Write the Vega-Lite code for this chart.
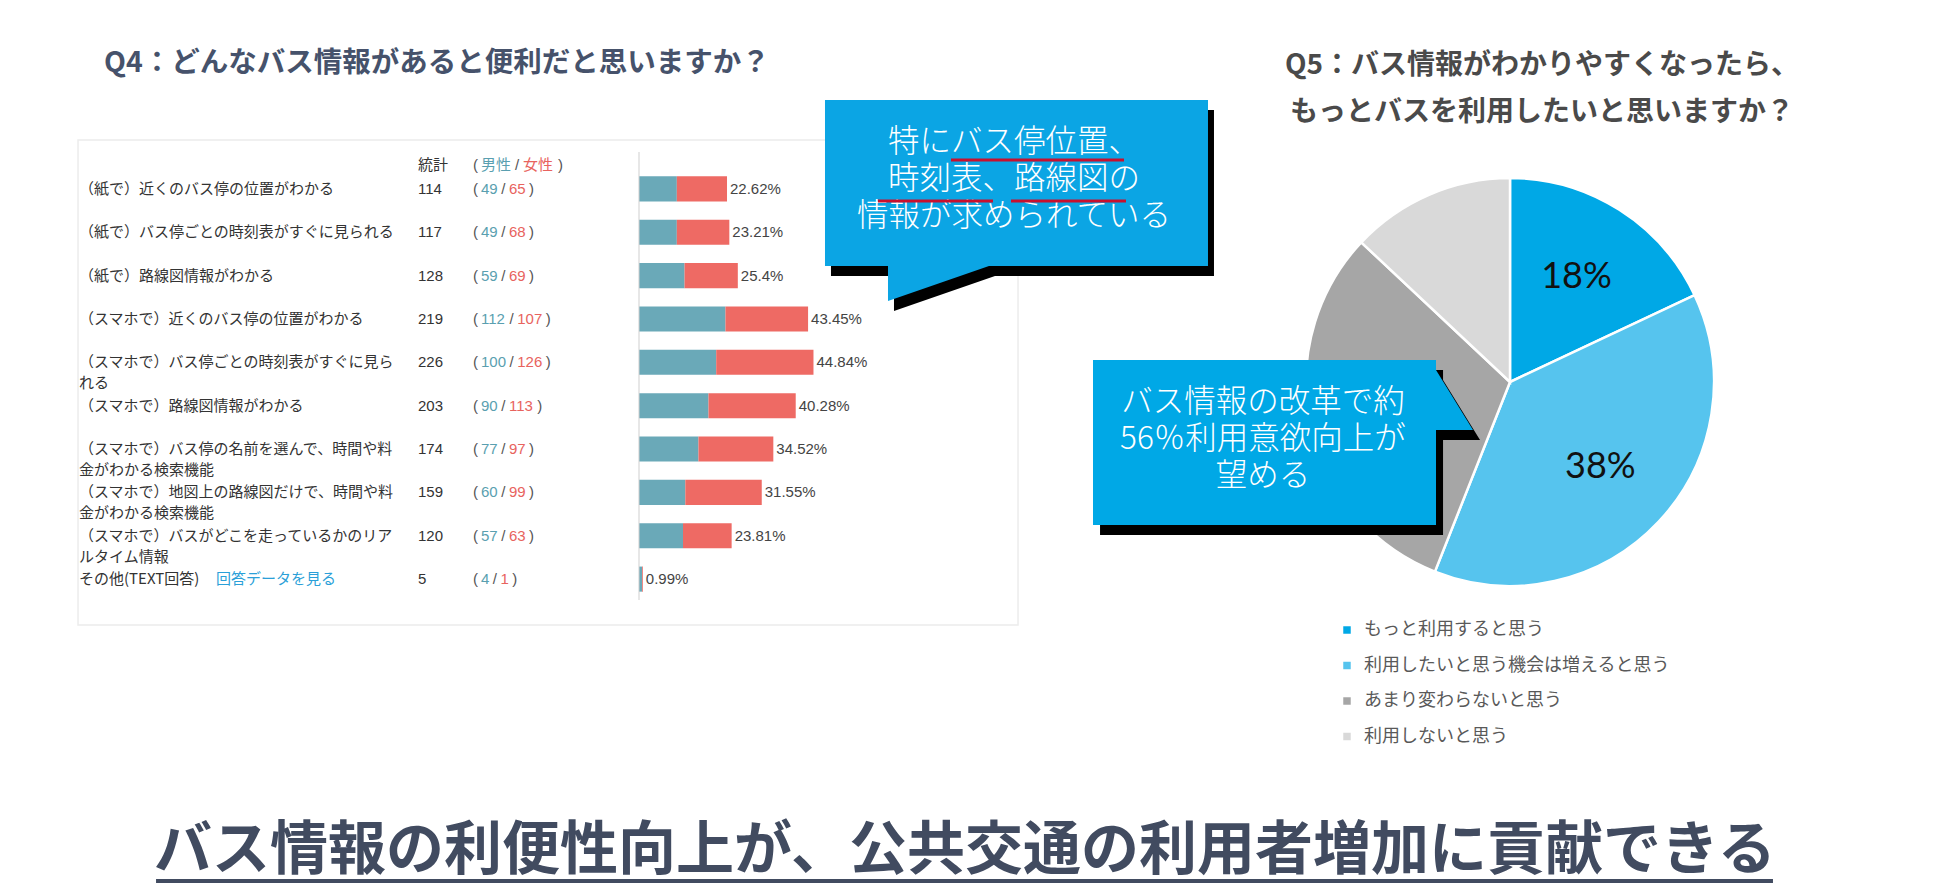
{
"$schema": "https://vega.github.io/schema/vega-lite/v6.json",
"background": "white",
"padding": {"left": 77, "top": 48, "right": 0, "bottom": 12},
"autosize": {"type": "pad"},
"config": {
  "view": {"stroke": null},
  "font": "Noto Sans CJK JP"
},
"datasets": {
  "q4": [
    {"item": "（紙で）近くのバス停の位置がわかる", "total": 114, "male": 49, "female": 65, "share": 0.2262},
    {"item": "（紙で）バス停ごとの時刻表がすぐに見られる", "total": 117, "male": 49, "female": 68, "share": 0.2321},
    {"item": "（紙で）路線図情報がわかる", "total": 128, "male": 59, "female": 69, "share": 0.254},
    {"item": "（スマホで）近くのバス停の位置がわかる", "total": 219, "male": 112, "female": 107, "share": 0.4345},
    {"item": "（スマホで）バス停ごとの時刻表がすぐに見ら\nれる", "total": 226, "male": 100, "female": 126, "share": 0.4484},
    {"item": "（スマホで）路線図情報がわかる", "total": 203, "male": 90, "female": 113, "share": 0.4028},
    {"item": "（スマホで）バス停の名前を選んで、時間や料\n金がわかる検索機能", "total": 174, "male": 77, "female": 97, "share": 0.3452},
    {"item": "（スマホで）地図上の路線図だけで、時間や料\n金がわかる検索機能", "total": 159, "male": 60, "female": 99, "share": 0.3155},
    {"item": "（スマホで）バスがどこを走っているかのリア\nルタイム情報", "total": 120, "male": 57, "female": 63, "share": 0.2381},
    {"item": "その他(TEXT回答)", "link": "回答データを見る", "total": 5, "male": 4, "female": 1, "share": 0.0099}
  ],
  "q5": [
    {"no": 1, "answer": "もっと利用すると思う", "pct": 0.18},
    {"no": 2, "answer": "利用したいと思う機会は増えると思う", "pct": 0.38},
    {"no": 3, "answer": "あまり変わらないと思う", "pct": 0.31},
    {"no": 4, "answer": "利用しないと思う", "pct": 0.13}
  ]
},
"bounds": "flush",
"spacing": 685,
"vconcat": [
  {
    "bounds": "flush",
    "spacing": 0,
    "hconcat": [
      {
        "width": 560,
        "height": 502,
        "title": {"text": "Q4：どんなバス情報があると便利だと思いますか？", "anchor": "start", "dx": 25, "fontSize": 28.5, "fontWeight": "bold", "color": "#46526b", "font": "Noto Sans CJK JP", "baseline": "bottom", "offset": 27},
        "data": {"name": "q4"},
        "encoding": {
          "y": {"field": "item", "type": "nominal", "axis": null,
            "scale": {"type": "band", "paddingInner": 0.4221, "paddingOuter": 1.0125,
              "domain": ["（紙で）近くのバス停の位置がわかる", "（紙で）バス停ごとの時刻表がすぐに見られる", "（紙で）路線図情報がわかる", "（スマホで）近くのバス停の位置がわかる", "（スマホで）バス停ごとの時刻表がすぐに見ら\nれる", "（スマホで）路線図情報がわかる", "（スマホで）バス停の名前を選んで、時間や料\n金がわかる検索機能", "（スマホで）地図上の路線図だけで、時間や料\n金がわかる検索機能", "（スマホで）バスがどこを走っているかのリア\nルタイム情報", "その他(TEXT回答)"]}}
        },
        "layer": [
          {"mark": {"type": "text", "align": "left", "baseline": "middle", "fontSize": 15, "color": "#333333", "lineBreak": "\n", "lineHeight": 21},
           "encoding": {"x": {"datum": 0, "type": "quantitative", "scale": {"domain": [0, 100], "nice": false, "zero": false}, "axis": null}, "text": {"field": "item"}}},
          {"transform": [{"filter": "isValid(datum.link)"}],
           "mark": {"type": "text", "align": "left", "baseline": "middle", "fontSize": 15, "color": "#2b9fd8"},
           "encoding": {"x": {"datum": 24.46, "type": "quantitative", "scale": {"domain": [0, 100], "nice": false, "zero": false}, "axis": null}, "text": {"field": "link"}}},
          {"mark": {"type": "text", "align": "left", "baseline": "middle", "fontSize": 15, "font": "Liberation Sans", "color": "#333333"},
           "encoding": {"x": {"datum": 60.54, "type": "quantitative", "scale": {"domain": [0, 100], "nice": false, "zero": false}, "axis": null}, "text": {"field": "total", "type": "quantitative", "format": "d"}}},
          {"mark": {"type": "text", "align": "left", "baseline": "middle", "fontSize": 15, "font": "Liberation Sans", "color": "#555555"},
           "encoding": {"x": {"datum": 70.36, "type": "quantitative", "scale": {"domain": [0, 100], "nice": false, "zero": false}, "axis": null}, "text": {"value": "("}}},
          {"mark": {"type": "text", "align": "left", "baseline": "middle", "fontSize": 15, "font": "Liberation Sans", "color": "#5a9fb0"},
           "encoding": {"x": {"datum": 71.79, "type": "quantitative", "scale": {"domain": [0, 100], "nice": false, "zero": false}, "axis": null}, "text": {"field": "male", "type": "quantitative", "format": "d"}}},
          {"transform": [{"filter": "datum.male < 10"}],
           "mark": {"type": "text", "align": "left", "baseline": "middle", "fontSize": 15, "font": "Liberation Sans", "color": "#555555"},
           "encoding": {"x": {"datum": 73.89, "type": "quantitative", "scale": {"domain": [0, 100], "nice": false, "zero": false}, "axis": null}, "text": {"value": "/"}}},
          {"transform": [{"filter": "datum.male >= 10 && datum.male < 100"}],
           "mark": {"type": "text", "align": "left", "baseline": "middle", "fontSize": 15, "font": "Liberation Sans", "color": "#555555"},
           "encoding": {"x": {"datum": 75.39, "type": "quantitative", "scale": {"domain": [0, 100], "nice": false, "zero": false}, "axis": null}, "text": {"value": "/"}}},
          {"transform": [{"filter": "datum.male >= 100"}],
           "mark": {"type": "text", "align": "left", "baseline": "middle", "fontSize": 15, "font": "Liberation Sans", "color": "#555555"},
           "encoding": {"x": {"datum": 76.88, "type": "quantitative", "scale": {"domain": [0, 100], "nice": false, "zero": false}, "axis": null}, "text": {"value": "/"}}},
          {"transform": [{"filter": "datum.male < 10"}],
           "mark": {"type": "text", "align": "left", "baseline": "middle", "fontSize": 15, "font": "Liberation Sans", "color": "#e8635e"},
           "encoding": {"x": {"datum": 75.27, "type": "quantitative", "scale": {"domain": [0, 100], "nice": false, "zero": false}, "axis": null}, "text": {"field": "female", "type": "quantitative", "format": "d"}}},
          {"transform": [{"filter": "datum.male >= 10 && datum.male < 100"}],
           "mark": {"type": "text", "align": "left", "baseline": "middle", "fontSize": 15, "font": "Liberation Sans", "color": "#e8635e"},
           "encoding": {"x": {"datum": 76.77, "type": "quantitative", "scale": {"domain": [0, 100], "nice": false, "zero": false}, "axis": null}, "text": {"field": "female", "type": "quantitative", "format": "d"}}},
          {"transform": [{"filter": "datum.male >= 100"}],
           "mark": {"type": "text", "align": "left", "baseline": "middle", "fontSize": 15, "font": "Liberation Sans", "color": "#e8635e"},
           "encoding": {"x": {"datum": 78.25, "type": "quantitative", "scale": {"domain": [0, 100], "nice": false, "zero": false}, "axis": null}, "text": {"field": "female", "type": "quantitative", "format": "d"}}},
          {"transform": [{"filter": "(datum.male >= 100 ? 3 : datum.male >= 10 ? 2 : 1) + (datum.female >= 100 ? 3 : datum.female >= 10 ? 2 : 1) == 2"}],
           "mark": {"type": "text", "align": "left", "baseline": "middle", "fontSize": 15, "font": "Liberation Sans", "color": "#555555"},
           "encoding": {"x": {"datum": 77.38, "type": "quantitative", "scale": {"domain": [0, 100], "nice": false, "zero": false}, "axis": null}, "text": {"value": ")"}}},
          {"transform": [{"filter": "(datum.male >= 100 ? 3 : datum.male >= 10 ? 2 : 1) + (datum.female >= 100 ? 3 : datum.female >= 10 ? 2 : 1) == 3"}],
           "mark": {"type": "text", "align": "left", "baseline": "middle", "fontSize": 15, "font": "Liberation Sans", "color": "#555555"},
           "encoding": {"x": {"datum": 78.87, "type": "quantitative", "scale": {"domain": [0, 100], "nice": false, "zero": false}, "axis": null}, "text": {"value": ")"}}},
          {"transform": [{"filter": "(datum.male >= 100 ? 3 : datum.male >= 10 ? 2 : 1) + (datum.female >= 100 ? 3 : datum.female >= 10 ? 2 : 1) == 4"}],
           "mark": {"type": "text", "align": "left", "baseline": "middle", "fontSize": 15, "font": "Liberation Sans", "color": "#555555"},
           "encoding": {"x": {"datum": 80.36, "type": "quantitative", "scale": {"domain": [0, 100], "nice": false, "zero": false}, "axis": null}, "text": {"value": ")"}}},
          {"transform": [{"filter": "(datum.male >= 100 ? 3 : datum.male >= 10 ? 2 : 1) + (datum.female >= 100 ? 3 : datum.female >= 10 ? 2 : 1) == 5"}],
           "mark": {"type": "text", "align": "left", "baseline": "middle", "fontSize": 15, "font": "Liberation Sans", "color": "#555555"},
           "encoding": {"x": {"datum": 81.85, "type": "quantitative", "scale": {"domain": [0, 100], "nice": false, "zero": false}, "axis": null}, "text": {"value": ")"}}},
          {"transform": [{"filter": "(datum.male >= 100 ? 3 : datum.male >= 10 ? 2 : 1) + (datum.female >= 100 ? 3 : datum.female >= 10 ? 2 : 1) == 6"}],
           "mark": {"type": "text", "align": "left", "baseline": "middle", "fontSize": 15, "font": "Liberation Sans", "color": "#555555"},
           "encoding": {"x": {"datum": 83.34, "type": "quantitative", "scale": {"domain": [0, 100], "nice": false, "zero": false}, "axis": null}, "text": {"value": ")"}}},
          {"data": {"values": [{"t": "統計"}]},
           "mark": {"type": "text", "align": "left", "baseline": "middle", "fontSize": 15, "color": "#333333", "dy": -24},
           "encoding": {"x": {"datum": 60.54, "type": "quantitative", "scale": {"domain": [0, 100], "nice": false, "zero": false}, "axis": null}, "y": {"datum": "（紙で）近くのバス停の位置がわかる", "type": "nominal"}, "text": {"field": "t"}}},
          {"data": {"values": [{"t": "("}]},
           "mark": {"type": "text", "align": "left", "baseline": "middle", "fontSize": 15, "font": "Liberation Sans", "color": "#555555", "dy": -24},
           "encoding": {"x": {"datum": 70.36, "type": "quantitative", "scale": {"domain": [0, 100], "nice": false, "zero": false}, "axis": null}, "y": {"datum": "（紙で）近くのバス停の位置がわかる", "type": "nominal"}, "text": {"field": "t"}}},
          {"data": {"values": [{"t": "男性"}]},
           "mark": {"type": "text", "align": "left", "baseline": "middle", "fontSize": 15, "color": "#5a9fb0", "dy": -24},
           "encoding": {"x": {"datum": 71.79, "type": "quantitative", "scale": {"domain": [0, 100], "nice": false, "zero": false}, "axis": null}, "y": {"datum": "（紙で）近くのバス停の位置がわかる", "type": "nominal"}, "text": {"field": "t"}}},
          {"data": {"values": [{"t": "/"}]},
           "mark": {"type": "text", "align": "left", "baseline": "middle", "fontSize": 15, "font": "Liberation Sans", "color": "#555555", "dy": -24},
           "encoding": {"x": {"datum": 77.86, "type": "quantitative", "scale": {"domain": [0, 100], "nice": false, "zero": false}, "axis": null}, "y": {"datum": "（紙で）近くのバス停の位置がわかる", "type": "nominal"}, "text": {"field": "t"}}},
          {"data": {"values": [{"t": "女性"}]},
           "mark": {"type": "text", "align": "left", "baseline": "middle", "fontSize": 15, "color": "#e8635e", "dy": -24},
           "encoding": {"x": {"datum": 79.29, "type": "quantitative", "scale": {"domain": [0, 100], "nice": false, "zero": false}, "axis": null}, "y": {"datum": "（紙で）近くのバス停の位置がわかる", "type": "nominal"}, "text": {"field": "t"}}},
          {"data": {"values": [{"t": ")"}]},
           "mark": {"type": "text", "align": "left", "baseline": "middle", "fontSize": 15, "font": "Liberation Sans", "color": "#555555", "dy": -24},
           "encoding": {"x": {"datum": 85.54, "type": "quantitative", "scale": {"domain": [0, 100], "nice": false, "zero": false}, "axis": null}, "y": {"datum": "（紙で）近くのバス停の位置がわかる", "type": "nominal"}, "text": {"field": "t"}}}
        ]
      },
      {
        "width": 447,
        "height": 502,
        "resolve": {"scale": {"x": "independent", "y": "independent"}},
        "layer": [
          {
            "data": {"name": "q4"},
            "encoding": {
              "y": {"field": "item", "type": "nominal", "axis": null,
                "scale": {"type": "band", "paddingInner": 0.4221, "paddingOuter": 1.0125,
                  "domain": ["（紙で）近くのバス停の位置がわかる", "（紙で）バス停ごとの時刻表がすぐに見られる", "（紙で）路線図情報がわかる", "（スマホで）近くのバス停の位置がわかる", "（スマホで）バス停ごとの時刻表がすぐに見ら\nれる", "（スマホで）路線図情報がわかる", "（スマホで）バス停の名前を選んで、時間や料\n金がわかる検索機能", "（スマホで）地図上の路線図だけで、時間や料\n金がわかる検索機能", "（スマホで）バスがどこを走っているかのリア\nルタイム情報", "その他(TEXT回答)"]}}
            },
            "layer": [
              {"mark": {"type": "bar", "color": "#6aa9b8"},
               "encoding": {"x": {"field": "male", "type": "quantitative", "scale": {"domain": [0, 579], "nice": false}, "axis": null}}},
              {"mark": {"type": "bar", "color": "#ee6a64"},
               "encoding": {"x": {"field": "male", "type": "quantitative", "scale": {"domain": [0, 579], "nice": false}, "axis": null}, "x2": {"field": "total"}}},
              {"mark": {"type": "text", "align": "left", "baseline": "middle", "dx": 3, "fontSize": 15, "font": "Liberation Sans", "color": "#444444"},
               "encoding": {"x": {"field": "total", "type": "quantitative", "scale": {"domain": [0, 579], "nice": false}, "axis": null}, "text": {"field": "share", "type": "quantitative", "format": ".2~%"}}}
            ]
          },
          {
            "layer": [
              {"data": {"values": [{}]},
               "mark": {"type": "rect", "fillOpacity": 0, "stroke": "#ececec", "strokeWidth": 1.5},
               "encoding": {"x": {"datum": -125.5, "type": "quantitative", "scale": {"domain": [0, 100], "nice": false, "zero": false}, "axis": null}, "x2": {"datum": 84.79},
                            "y": {"datum": 1.39, "type": "quantitative", "scale": {"domain": [0, 100], "nice": false, "zero": false, "reverse": true}, "axis": null}, "y2": {"datum": 98.0}}},
              {"data": {"values": [{}]},
               "mark": {"type": "rule", "color": "#cfcfcf", "strokeWidth": 1},
               "encoding": {"x": {"datum": 0, "type": "quantitative", "scale": {"domain": [0, 100], "nice": false, "zero": false}, "axis": null},
                            "y": {"datum": 3.78, "type": "quantitative", "scale": {"domain": [0, 100], "nice": false, "zero": false, "reverse": true}, "axis": null}, "y2": {"datum": 93.03}}},
              {"data": {"values": [{}]},
               "mark": {"type": "point", "shape": "M-1,-0.4334 L1,-0.4334 L1,0.4334 L-0.1436,0.4334 L-0.671,0.6162 L-0.671,0.4334 L-1,0.4334 Z", "size": 146689, "filled": true, "color": "#000000", "opacity": 1, "strokeWidth": 0},
               "encoding": {"x": {"datum": 85.79, "type": "quantitative", "scale": {"domain": [0, 100], "nice": false, "zero": false}, "axis": null},
                            "y": {"datum": 11.95, "type": "quantitative", "scale": {"domain": [0, 100], "nice": false, "zero": false, "reverse": true}, "axis": null}}},
              {"data": {"values": [{}]},
               "mark": {"type": "point", "shape": "M-1,-0.4334 L1,-0.4334 L1,0.4334 L-0.1436,0.4334 L-0.671,0.6162 L-0.671,0.4334 L-1,0.4334 Z", "size": 146689, "filled": true, "color": "#0ba5e4", "opacity": 1, "strokeWidth": 0},
               "encoding": {"x": {"datum": 84.45, "type": "quantitative", "scale": {"domain": [0, 100], "nice": false, "zero": false}, "axis": null},
                            "y": {"datum": 9.96, "type": "quantitative", "scale": {"domain": [0, 100], "nice": false, "zero": false, "reverse": true}, "axis": null}}},
              {"data": {"values": [{"t": "特にバス停位置、\n時刻表、路線図の\n情報が求められている"}]},
               "mark": {"type": "text", "align": "center", "baseline": "middle", "fontSize": 31.5, "fontWeight": 300, "color": "#ffffff", "lineBreak": "\n", "lineHeight": 37},
               "encoding": {"x": {"datum": 83.89, "type": "quantitative", "scale": {"domain": [0, 100], "nice": false, "zero": false}, "axis": null},
                            "y": {"datum": 2.0, "type": "quantitative", "scale": {"domain": [0, 100], "nice": false, "zero": false, "reverse": true}, "axis": null},
                            "text": {"field": "t"}}},
              {"data": {"values": [{}]},
               "mark": {"type": "rule", "color": "#c8102e", "strokeWidth": 3},
               "encoding": {"x": {"datum": 69.80, "type": "quantitative", "scale": {"domain": [0, 100], "nice": false, "zero": false}, "axis": null}, "x2": {"datum": 108.50},
                            "y": {"datum": 5.38, "type": "quantitative", "scale": {"domain": [0, 100], "nice": false, "zero": false, "reverse": true}, "axis": null}}},
              {"data": {"values": [{}]},
               "mark": {"type": "rule", "color": "#c8102e", "strokeWidth": 3},
               "encoding": {"x": {"datum": 53.47, "type": "quantitative", "scale": {"domain": [0, 100], "nice": false, "zero": false}, "axis": null}, "x2": {"datum": 79.19},
                            "y": {"datum": 13.55, "type": "quantitative", "scale": {"domain": [0, 100], "nice": false, "zero": false, "reverse": true}, "axis": null}}},
              {"data": {"values": [{}]},
               "mark": {"type": "rule", "color": "#c8102e", "strokeWidth": 3},
               "encoding": {"x": {"datum": 83.22, "type": "quantitative", "scale": {"domain": [0, 100], "nice": false, "zero": false}, "axis": null}, "x2": {"datum": 108.95},
                            "y": {"datum": 13.55, "type": "quantitative", "scale": {"domain": [0, 100], "nice": false, "zero": false, "reverse": true}, "axis": null}}}
            ]
          }
        ]
      },
      {
        "width": 848,
        "height": 498,
        "title": {"text": ["Q5：バス情報がわかりやすくなったら、", "もっとバスを利用したいと思いますか？"], "anchor": "middle", "dx": 32, "fontSize": 28, "fontWeight": "bold", "color": "#4a4a4a", "font": "Noto Sans CJK JP", "lineHeight": 47, "baseline": "bottom", "offset": -22},
        "layer": [
          {
            "data": {"name": "q5"},
            "encoding": {
              "theta": {"field": "pct", "type": "quantitative", "stack": true},
              "order": {"field": "no", "type": "quantitative"}
            },
            "layer": [
              {"mark": {"type": "arc", "outerRadius": 204, "stroke": "#ffffff", "strokeWidth": 2.5},
               "encoding": {"color": {"field": "answer", "type": "nominal",
                 "scale": {"domain": ["もっと利用すると思う", "利用したいと思う機会は増えると思う", "あまり変わらないと思う", "利用しないと思う"], "range": ["#00a8e6", "#56c4ee", "#a6a6a6", "#d9d9d9"]},
                 "legend": {"orient": "none", "legendX": 1259, "legendY": 488, "title": null, "symbolType": "square", "symbolSize": 56, "symbolStrokeWidth": 0, "labelFontSize": 18, "labelColor": "#595959", "labelFont": "Noto Sans CJK JP", "rowPadding": 17.5, "labelOffset": 8, "labelLimit": 500, "padding": 0}}}},
              {"mark": {"type": "text", "radius": 124, "fontSize": 36, "font": "Lato", "color": "#111111"},
               "encoding": {"text": {"condition": {"test": "datum.no > 2", "value": ""}, "field": "pct", "type": "quantitative", "format": ".0%"}}}
            ]
          },
          {
            "layer": [
              {"data": {"values": [{}]},
               "mark": {"type": "point", "shape": "M-1,-0.4810 L1,-0.4810 L1,-0.4227 L1.2157,-0.0729 L1,-0.0729 L1,0.4810 L-1,0.4810 Z", "size": 117649, "filled": true, "color": "#000000", "opacity": 1, "strokeWidth": 0},
               "encoding": {"x": {"datum": 21.88, "type": "quantitative", "scale": {"domain": [0, 100], "nice": false, "zero": false}, "axis": null},
                            "y": {"datum": 64.16, "type": "quantitative", "scale": {"domain": [0, 100], "nice": false, "zero": false, "reverse": true}, "axis": null}}},
              {"data": {"values": [{}]},
               "mark": {"type": "point", "shape": "M-1,-0.4810 L1,-0.4810 L1,-0.4227 L1.2157,-0.0729 L1,-0.0729 L1,0.4810 L-1,0.4810 Z", "size": 117649, "filled": true, "color": "#00a8e6", "opacity": 1, "strokeWidth": 0},
               "encoding": {"x": {"datum": 21.05, "type": "quantitative", "scale": {"domain": [0, 100], "nice": false, "zero": false}, "axis": null},
                            "y": {"datum": 62.15, "type": "quantitative", "scale": {"domain": [0, 100], "nice": false, "zero": false, "reverse": true}, "axis": null}}},
              {"data": {"values": [{"t": "バス情報の改革で約\n56％利用意欲向上が\n望める"}]},
               "mark": {"type": "text", "align": "center", "baseline": "middle", "fontSize": 31.5, "fontWeight": 300, "color": "#ffffff", "lineBreak": "\n", "lineHeight": 37},
               "encoding": {"x": {"datum": 20.87, "type": "quantitative", "scale": {"domain": [0, 100], "nice": false, "zero": false}, "axis": null},
                            "y": {"datum": 54.22, "type": "quantitative", "scale": {"domain": [0, 100], "nice": false, "zero": false, "reverse": true}, "axis": null},
                            "text": {"field": "t"}}}
            ]
          }
        ]
      }
    ]
  },
  {
    "width": 1800,
    "height": 64,
    "layer": [
      {"data": {"values": [{"t": "バス情報の利便性向上が、公共交通の利用者増加に貢献できる"}]},
       "mark": {"type": "text", "align": "center", "baseline": "middle", "fontSize": 58, "fontWeight": "bold", "color": "#414b60"},
       "encoding": {"x": {"datum": 49.22, "type": "quantitative", "scale": {"domain": [0, 100], "nice": false, "zero": false}, "axis": null},
                    "y": {"datum": 53.1, "type": "quantitative", "scale": {"domain": [0, 100], "nice": false, "zero": false, "reverse": true}, "axis": null},
                    "text": {"field": "t"}}},
      {"data": {"values": [{}]},
       "mark": {"type": "rule", "color": "#414b60", "strokeWidth": 4},
       "encoding": {"x": {"datum": 4.28, "type": "quantitative", "scale": {"domain": [0, 100], "nice": false, "zero": false}, "axis": null}, "x2": {"datum": 94.11},
                    "y": {"datum": 98.44, "type": "quantitative", "scale": {"domain": [0, 100], "nice": false, "zero": false, "reverse": true}, "axis": null}}}
    ]
  }
]
}
